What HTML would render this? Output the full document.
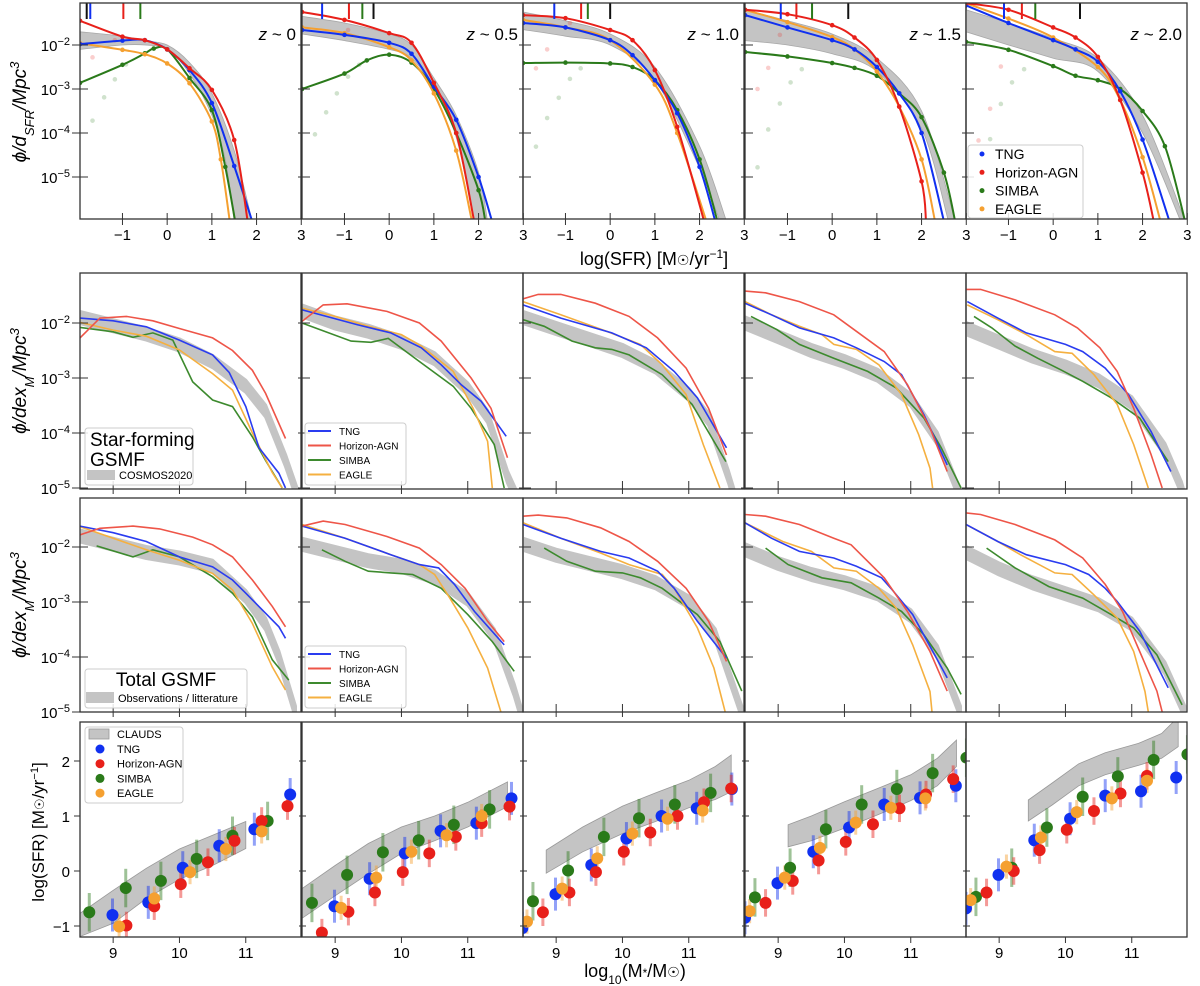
<!DOCTYPE html>
<html><head><meta charset="utf-8"><style>
html,body{margin:0;padding:0;background:#fff;}
svg{display:block;font-family:"Liberation Sans","DejaVu Sans",sans-serif;}
</style></head><body>
<svg id="fig" width="1200" height="986" viewBox="0 0 1200 986" xmlns="http://www.w3.org/2000/svg">
<defs id="defs"></defs>
<text x="654" y="265" font-size="18" text-anchor="middle">log(SFR) [M<tspan font-size="14">☉</tspan>/yr<tspan baseline-shift="super" font-size="12">−1</tspan>]</text>
<text x="635" y="977" font-size="18" text-anchor="middle">log<tspan baseline-shift="sub" font-size="12">10</tspan>(M<tspan font-size="12">*</tspan>/M<tspan font-size="14">☉</tspan>)</text>
<text transform="translate(26,112) rotate(-90)" font-size="19" text-anchor="middle" font-style="italic">ϕ/d<tspan baseline-shift="sub" font-size="13">SFR</tspan>/Mpc<tspan baseline-shift="super" font-size="13">3</tspan></text>
<text transform="translate(26,381) rotate(-90)" font-size="19" text-anchor="middle" font-style="italic">ϕ/dex<tspan baseline-shift="sub" font-size="13">M</tspan>/Mpc<tspan baseline-shift="super" font-size="13">3</tspan></text>
<text transform="translate(26,605) rotate(-90)" font-size="19" text-anchor="middle" font-style="italic">ϕ/dex<tspan baseline-shift="sub" font-size="13">M</tspan>/Mpc<tspan baseline-shift="super" font-size="13">3</tspan></text>
<text transform="translate(44,832) rotate(-90)" font-size="17" text-anchor="middle">log(SFR) [M<tspan font-size="13">☉</tspan>/yr<tspan baseline-shift="super" font-size="11">−1</tspan>]</text>
</svg>
<script>
// ---------- DATA: row 1 (SFR functions, log phi) ----------
const redshiftLabels = ["z ~ 0","z ~ 0.5","z ~ 1.0","z ~ 1.5","z ~ 2.0"];
const r1TngX = [[-1.95,-1,-0.5,0,0.5,1,1.5,1.9],[-1.95,-1,0,0.5,1,1.5,2,2.3],[-1.95,-1,0,0.5,1,1.5,2,2.35],[-1.95,-1,0,0.5,1,1.5,2,2.5],[-1.95,-1,0,0.5,1,1.5,2,2.6]];
const r1TngY = [[-1.98,-1.9,-1.89,-2.1,-2.57,-3.32,-4.75,-6],[-1.66,-1.77,-1.95,-2.2,-2.95,-3.7,-5.0,-6],[-1.5,-1.6,-1.89,-2.23,-2.8,-3.55,-4.77,-6],[-1.32,-1.6,-1.89,-2.1,-2.5,-3.1,-4.0,-6],[-1.1,-1.5,-1.89,-2.1,-2.38,-3.05,-4.15,-6]];
const r1HagnX = [[-1.95,-1,-0.5,0,0.5,1,1.5,1.8],[-1.95,-1,0,0.5,1,1.5,1.9],[-1.95,-1,0,0.5,1,1.5,2.1],[-1.95,-1,0,0.5,1,1.5,2,2.1],[-1.95,-1,0,0.5,1,1.5,2,2.25]];
const r1HagnY = [[-1.45,-1.81,-1.89,-2.1,-2.53,-3.02,-4.16,-6],[-1.25,-1.43,-1.73,-1.95,-2.86,-4.0,-6],[-1.32,-1.39,-1.66,-1.89,-2.57,-3.86,-6],[-1.2,-1.3,-1.55,-1.83,-2.34,-3.4,-5.1,-6],[-1.05,-1.2,-1.6,-1.83,-2.27,-3.25,-4.9,-6]];
const r1SimbaX = [[-1.95,-1,-0.5,-0.3,0,0.5,1,1.3,1.52],[-1.95,-1,-0.5,0,0.5,1,1.5,2,2.15],[-1.95,-1,0,0.5,1,1.5,2,2.4],[-1.95,-1,0,0.5,1,1.5,2,2.5,2.75],[-1.95,-1,0,0.5,1,1.5,2,2.5,2.95]];
const r1SimbaY = [[-2.86,-2.45,-2.19,-2.08,-2.1,-2.75,-3.48,-4.77,-6],[-3,-2.65,-2.35,-2.22,-2.4,-3.0,-4.0,-5.3,-6],[-2.41,-2.4,-2.42,-2.5,-2.8,-3.48,-4.6,-6],[-2.16,-2.26,-2.41,-2.52,-2.7,-3.1,-3.64,-4.9,-6],[-1.93,-2.11,-2.48,-2.7,-2.8,-3.0,-3.5,-4.3,-6]];
const r1EagleX = [[-1.95,-1,-0.5,0,0.5,1,1.2,1.4],[-1.95,-1,0,0.5,1,1.5,1.85],[-1.95,-1,0,1,1.5,2.15],[-1.95,-1,0,0.5,1,1.5,2,2.3],[-1.95,-1,0,1,1.5,2,2.4]];
const r1EagleY = [[-1.96,-2.11,-2.21,-2.42,-2.87,-3.74,-4.6,-6],[-1.6,-1.73,-2.05,-2.35,-3.1,-4.4,-6],[-1.43,-1.6,-1.89,-2.9,-4.0,-6],[-1.2,-1.48,-1.82,-2.1,-2.6,-3.4,-4.6,-6],[-1.05,-1.4,-1.83,-2.5,-3.25,-4.55,-6]];
const r1BandUpX = [[-1.95,-1,-0.5,0,0.5,1,1.5,1.9],[-1.95,-1,0,0.5,1,1.5,2,2.2],[-1.95,-1,0,1,2,2.6],[-1.95,-1,0,1,2,2.75],[-1.95,-1,0,1,2,2.95]];
const r1BandUpY = [[-1.7,-1.8,-1.9,-2.0,-2.4,-3.1,-4.4,-6],[-1.35,-1.5,-1.75,-2.0,-2.75,-3.6,-4.9,-6],[-1.25,-1.45,-1.75,-2.5,-4.3,-6],[-1.2,-1.45,-1.75,-2.3,-3.5,-6],[-1.2,-1.5,-1.85,-2.3,-3.6,-6]];
const r1BandLoX = [[-1.95,-1,-0.5,0,0.5,1,1.3,1.5],[-1.95,-1,0,0.5,1,1.5,1.9],[-1.95,-1,0,1,2,2.45],[-1.95,-1,0,1,2,2.6],[-1.95,-1,0,1,2,2.85]];
const r1BandLoY = [[-2.1,-2.0,-2.0,-2.1,-2.65,-3.6,-4.6,-6],[-1.75,-1.9,-2.1,-2.3,-3.0,-4.1,-6],[-1.65,-1.8,-2.0,-2.8,-4.8,-6],[-1.9,-2.0,-2.2,-2.6,-3.9,-6],[-1.7,-2.0,-2.3,-2.6,-4.0,-6]];
const r1FadedGreenX = [[-1.67,-1.41,-1.17,-0.92],[-1.66,-1.41,-1.17,-0.92,-0.67],[-1.66,-1.41,-1.15,-0.9,-0.66],[-1.67,-1.43,-1.17,-0.93,-0.68],[-1.41,-1.17,-0.92,-0.65]];
const r1FadedGreenY = [[-3.72,-3.19,-2.78,-2.44],[-4.03,-3.53,-3.1,-2.72,-2.45],[-4.31,-3.66,-3.2,-2.77,-2.53],[-4.78,-3.92,-3.33,-2.85,-2.55],[-4.14,-3.34,-2.85,-2.55]];
const r1FadedRedX = [[-1.67,-1.17],[-0.92],[-1.66,-1.41,-0.9],[-1.67,-1.43,-1.17],[-1.67,-1.41,-1.17]];
const r1FadedRedY = [[-2.28,-1.89],[-1.66],[-2.53,-2.1,-1.5],[-3.0,-2.52,-1.77],[-4.17,-3.45,-2.49]];
const r1TopTickTng = [-1.72,-1.5,-1.25,-1.15,-1.1];
const r1TopTickHagn = [-0.98,-0.9,-0.65,-0.8,-0.7];
const r1TopTickSimba = [-0.6,-0.6,-0.5,-0.45,-0.4];
const r1TopTickObs = [-1.8,-0.35,0,0.36,0.6];
const r1XTicks = [-1,0,1,2,3];
const r1YTicks = [-2,-3,-4,-5];

// ---------- DATA: row 2 (star-forming GSMF) ----------
const r2TngM = [[8.5,9,9.5,10,10.5,10.75,11,11.2,11.5,11.6],[8.5,9.33,9.84,10.3,10.6,10.9,11.2,11.58],[8.5,9.07,9.84,10.36,10.78,11.13,11.57],[8.5,8.9,9.32,9.84,10.18,10.6,10.86,11.2,11.55],[8.52,8.98,9.41,10.0,10.26,10.6,10.95,11.29,11.59]];
const r2TngV = [[-1.91,-1.96,-2.07,-2.31,-2.58,-2.9,-3.52,-4.27,-4.73,-5],[-1.76,-2.03,-2.18,-2.45,-2.76,-3.12,-3.42,-4.06],[-1.67,-1.91,-2.18,-2.45,-2.88,-3.36,-4.27],[-1.64,-1.85,-2.09,-2.27,-2.45,-2.7,-2.94,-3.67,-4.58],[-1.61,-1.91,-2.18,-2.39,-2.52,-2.82,-3.3,-3.97,-4.7]];
const r2HagnM = [[8.5,8.8,9.2,9.6,10,10.5,10.8,11.1,11.3,11.6],[8.5,8.82,9.18,9.78,10.27,10.6,11.05,11.35,11.6],[8.5,8.73,9.07,9.59,10.1,10.53,10.96,11.3,11.57],[8.5,8.81,9.32,9.84,10.18,10.6,10.95,11.29,11.55],[8.5,8.72,9.24,9.84,10.18,10.52,10.78,11.03,11.29,11.46]];
const r2HagnV = [[-2.27,-1.91,-1.88,-1.96,-2.1,-2.27,-2.5,-2.86,-3.28,-4.1],[-1.97,-1.67,-1.65,-1.79,-2.0,-2.33,-3.0,-3.55,-4.45],[-1.56,-1.48,-1.48,-1.64,-1.88,-2.27,-2.82,-3.55,-4.4],[-1.42,-1.45,-1.61,-1.85,-2.15,-2.52,-3.12,-3.91,-4.7],[-1.39,-1.39,-1.58,-1.85,-2.09,-2.45,-2.88,-3.55,-4.39,-5]];
const r2SimbaM = [[8.5,9,9.3,9.6,9.9,10.2,10.5,10.8,11.1,11.3,11.55],[8.5,9.24,9.54,9.8,10.27,10.78,11.05,11.4,11.55],[8.5,8.82,9.24,9.59,9.84,10.1,10.6,11.05,11.56],[8.59,8.98,9.32,9.84,10.35,10.78,11.2,11.46,11.76],[8.62,8.89,9.24,9.58,9.93,10.26,10.69,11.12,11.55]];
const r2SimbaV = [[-2.08,-2.16,-2.26,-2.18,-2.31,-3.07,-3.4,-3.52,-4.07,-4.5,-5],[-2.0,-2.33,-2.35,-2.28,-2.7,-3.15,-3.55,-4.21,-5],[-1.94,-2.06,-2.33,-2.45,-2.48,-2.58,-2.94,-3.48,-4.52],[-1.88,-2.12,-2.39,-2.64,-2.88,-3.18,-3.73,-4.27,-5],[-1.88,-2.09,-2.42,-2.64,-2.85,-3.06,-3.36,-3.73,-4.52]];
const r2EagleM = [[8.5,9,9.5,10,10.5,10.8,11.1,11.4,11.55],[8.5,9.0,9.5,10.0,10.3,10.78,11.08,11.3,11.37],[8.5,9.07,9.76,10.27,10.6,10.96,11.22,11.47],[8.5,8.9,9.32,9.66,9.84,10.18,10.52,10.86,11.12,11.29,11.33],[8.52,8.98,9.41,9.84,10.1,10.43,10.78,11.03,11.25]];
const r2EagleV = [[-1.99,-2.13,-2.24,-2.49,-2.92,-3.22,-4.0,-4.72,-5],[-1.73,-1.88,-2.06,-2.21,-2.42,-2.88,-3.55,-4.15,-5],[-1.61,-1.85,-2.15,-2.39,-2.76,-3.3,-4.21,-5],[-1.61,-1.85,-2.06,-2.21,-2.39,-2.48,-2.76,-3.3,-4.03,-4.64,-5],[-1.67,-1.94,-2.21,-2.52,-2.55,-2.94,-3.48,-4.21,-5]];
const r2BandM = [[8.5,9,9.5,10,10.5,11,11.3,11.6,11.8],[8.5,9,9.5,10,10.5,11,11.3,11.6,11.75],[8.5,9,9.5,10,10.5,11,11.3,11.6,11.7],[8.5,9,9.5,10,10.5,11,11.4,11.7,11.8],[8.5,9,9.5,10,10.5,11,11.5,11.75,11.82]];
const r2BandV = [[-1.9,-2.05,-2.2,-2.4,-2.7,-3.15,-3.6,-4.5,-5.2],[-1.78,-2.0,-2.15,-2.35,-2.65,-3.2,-3.7,-4.8,-5.2],[-1.9,-2.1,-2.3,-2.5,-2.8,-3.3,-3.75,-4.8,-5.2],[-2.0,-2.25,-2.5,-2.7,-2.95,-3.4,-4.1,-5,-5.3],[-2.1,-2.35,-2.6,-2.8,-3.05,-3.45,-4.3,-5,-5.3]];

// ---------- DATA: row 3 (total GSMF) ----------
const r3TngM = [[8.5,9,9.5,10,10.5,10.8,11,11.5,11.6],[8.5,9.15,9.84,10.27,10.56,10.8,11.1,11.55],[8.5,9.07,9.67,10.1,10.53,10.78,11.13,11.57],[8.5,8.9,9.32,9.84,10.18,10.56,10.7,11.03,11.55],[8.5,8.98,9.41,10.0,10.35,10.6,10.78,11.12,11.55]];
const r3TngV = [[-1.62,-1.74,-1.9,-2.18,-2.36,-2.6,-2.84,-3.45,-3.66],[-1.62,-1.84,-2.14,-2.32,-2.38,-2.68,-3.17,-3.78],[-1.59,-1.84,-2.08,-2.2,-2.44,-2.75,-3.35,-4.02],[-1.56,-1.84,-2.08,-2.2,-2.35,-2.56,-2.75,-3.23,-4.38],[-1.59,-1.9,-2.14,-2.32,-2.5,-2.75,-2.99,-3.53,-4.56]];
const r3HagnM = [[8.5,8.8,9.3,9.7,10.2,10.5,10.8,11.1,11.4,11.6],[8.5,8.82,9.15,9.78,10.27,10.6,10.96,11.3,11.55],[8.5,8.73,9.16,9.67,10.1,10.53,10.96,11.3,11.57],[8.5,8.81,9.32,9.84,10.1,10.35,10.6,10.95,11.29,11.55],[8.5,8.72,9.24,9.84,10.26,10.6,10.86,11.12,11.38,11.46]];
const r3HagnV = [[-1.78,-1.66,-1.62,-1.67,-1.82,-1.96,-2.18,-2.6,-3.08,-3.45],[-1.62,-1.53,-1.59,-1.81,-2.02,-2.32,-2.75,-3.35,-3.72],[-1.44,-1.42,-1.47,-1.65,-1.9,-2.26,-2.75,-3.35,-4.08],[-1.41,-1.44,-1.59,-1.84,-1.96,-2.26,-2.56,-3.17,-3.9,-4.62],[-1.38,-1.41,-1.59,-1.87,-2.2,-2.68,-3.17,-3.9,-4.62,-5]];
const r3SimbaM = [[8.75,9.3,9.6,10,10.5,10.8,11.1,11.4,11.65],[8.8,9.15,9.5,9.84,10.17,10.6,11.0,11.37,11.7],[8.82,9.16,9.59,10.0,10.27,10.6,11.13,11.47,11.8],[8.81,9.15,9.66,10.1,10.52,10.86,11.2,11.55,11.76],[8.81,9.24,9.75,10.26,10.69,11.03,11.38,11.76]];
const r3SimbaV = [[-1.98,-2.18,-2.05,-2.18,-2.54,-2.84,-3.27,-4.05,-4.42],[-2.05,-2.26,-2.44,-2.47,-2.5,-2.75,-3.23,-3.72,-4.26],[-2.02,-2.26,-2.44,-2.47,-2.56,-2.75,-3.23,-3.72,-4.62],[-2.02,-2.32,-2.56,-2.65,-2.93,-3.17,-3.6,-4.2,-4.68],[-2.02,-2.38,-2.72,-2.93,-3.23,-3.47,-3.96,-4.87]];
const r3EagleM = [[8.5,9,9.5,10,10.5,10.8,11.1,11.4,11.6],[8.5,9.15,9.84,10.27,10.5,10.73,11.0,11.3,11.5],[8.5,9.07,9.67,10.1,10.6,10.78,11.13,11.38,11.55],[8.5,9.07,9.5,9.84,10.18,10.52,10.78,11.03,11.29,11.32],[8.5,8.98,9.32,9.84,10.1,10.43,10.78,11.03,11.2,11.25]];
const r3EagleV = [[-1.63,-1.84,-2.05,-2.24,-2.48,-2.78,-3.39,-4.18,-4.6],[-1.59,-1.84,-2.14,-2.32,-2.5,-2.93,-3.47,-4.2,-5],[-1.56,-1.84,-2.11,-2.32,-2.5,-2.75,-3.47,-4.2,-5],[-1.56,-1.9,-2.08,-2.38,-2.44,-2.75,-3.11,-3.78,-4.63,-5],[-1.59,-1.9,-2.14,-2.47,-2.5,-2.87,-3.29,-3.9,-4.63,-5]];
const r3BandM = [[8.5,9,9.5,10,10.5,11,11.3,11.5,11.75],[8.5,9,9.5,10,10.5,11,11.4,11.7,11.8],[8.5,9,9.5,10,10.5,11,11.4,11.8],[8.5,9,9.5,10,10.5,11,11.4,11.75],[8.5,9,9.5,10,10.5,11,11.5,11.8]];
const r3BandV = [[-1.8,-1.95,-2.1,-2.2,-2.35,-2.9,-3.4,-4.0,-5],[-1.95,-2.1,-2.25,-2.35,-2.55,-2.95,-3.6,-4.6,-5],[-1.95,-2.15,-2.3,-2.45,-2.65,-3.0,-3.6,-5],[-2.05,-2.3,-2.5,-2.65,-2.85,-3.25,-3.9,-5],[-2.1,-2.4,-2.65,-2.85,-3.05,-3.4,-4.2,-5]];
const gsmfBandHalfWidth = [0.11,0.11,0.11,0.11,0.11];
const massTicks = [9,10,11];
const gsmfYTicks = [-2,-3,-4,-5];

// ---------- DATA: row 4 (SFR - mass) ----------
const r4BandM = [[8.5,9,9.5,10,10.5,11],[8.5,9,9.5,10,10.5,11,11.6],[8.85,9.4,10,10.5,11,11.4,11.64],[9.15,9.5,10,10.5,11,11.4,11.69],[9.44,9.8,10.2,10.6,11.1,11.45,11.7]];
const r4BandLo = [[-1.19,-0.95,-0.5,-0.15,0.1,0.41],[-0.86,-0.45,-0.05,0.32,0.55,0.8,1.17],[-0.04,0.35,0.68,0.9,1.15,1.3,1.44],[0.44,0.55,0.78,1.02,1.28,1.55,1.9],[0.91,1.2,1.55,1.75,1.92,2.05,2.26]];
const r4BandHi = [[-0.77,-0.35,0.05,0.4,0.65,0.9],[-0.32,0.1,0.5,0.8,1.0,1.25,1.62],[0.38,0.8,1.18,1.42,1.65,1.9,2.11],[0.84,1.0,1.26,1.5,1.75,2.05,2.38],[1.29,1.6,1.95,2.15,2.32,2.5,2.8]];
const r4SimbaM = [[8.64,9.19,9.72,10.26,10.8,11.33],[8.65,9.18,9.72,10.26,10.79,11.33],[8.65,9.18,9.72,10.25,10.79,11.33],[8.65,9.18,9.72,10.26,10.79,11.33,11.84],[8.65,9.19,9.72,10.26,10.79,11.33,11.84]];
const r4SimbaS = [[-0.75,-0.31,-0.18,0.22,0.64,0.91],[-0.58,-0.07,0.34,0.56,0.84,1.12],[-0.55,0.01,0.62,0.96,1.21,1.42],[-0.48,0.06,0.76,1.21,1.49,1.78,2.06],[-0.47,0.06,0.79,1.35,1.72,2.02,2.12]];
const r4TngM = [[8.99,9.53,10.05,10.6,11.13,11.67],[8.99,9.52,10.05,10.59,11.13,11.66],[8.49,8.99,9.53,10.06,10.59,11.12,11.65],[8.5,8.99,9.53,10.07,10.6,11.14,11.68],[8.5,8.99,9.53,10.07,10.6,11.14,11.67]];
const r4TngS = [[-0.8,-0.57,0.06,0.46,0.76,1.39],[-0.64,-0.14,0.32,0.73,0.87,1.32],[-1.04,-0.42,0.11,0.59,1.0,1.14,1.49],[-0.85,-0.22,0.35,0.79,1.21,1.33,1.55],[-0.68,-0.07,0.56,0.95,1.37,1.45,1.7]];
const r4HagnM = [[9.2,9.62,10.02,10.43,10.83,11.24,11.63],[8.8,9.2,9.6,10.02,10.42,10.82,11.21,11.63],[8.8,9.2,9.6,10.02,10.42,10.83,11.23,11.64],[8.81,9.22,9.61,10.02,10.43,10.83,11.23,11.64],[8.81,9.22,9.61,10.02,10.43,10.83,11.23]];
const r4HagnS = [[-0.99,-0.64,-0.24,0.16,0.55,0.91,1.18],[-1.12,-0.74,-0.39,-0.02,0.32,0.62,0.87,1.17],[-0.75,-0.39,-0.02,0.35,0.7,1.0,1.25,1.5],[-0.58,-0.18,0.19,0.53,0.85,1.14,1.39,1.67],[-0.39,0.0,0.38,0.75,1.09,1.41,1.73]];
const r4EagleM = [[9.09,9.62,10.16,10.7,11.24],[9.09,9.62,10.15,10.68,11.21],[8.56,9.09,9.62,10.15,10.68,11.21],[8.57,9.1,9.63,10.17,10.7,11.22],[8.57,9.11,9.63,10.17,10.7,11.23]];
const r4EagleS = [[-1.01,-0.5,-0.02,0.4,0.72],[-0.67,-0.12,0.35,0.65,1.0],[-0.92,-0.32,0.23,0.68,0.95,1.1],[-0.73,-0.12,0.42,0.88,1.15,1.32],[-0.53,0.08,0.61,1.07,1.32,1.64]];
const r4ErrTng = [0.3,0.3,0.3,0.3,0.3];
const r4ErrHagn = [0.25,0.25,0.25,0.25,0.25];
const r4ErrSimba = [0.35,0.35,0.35,0.35,0.35];
const r4ErrEagle = [0.22,0.22,0.22,0.22,0.22];
const r4XTicks = [9,10,11];
const r4YTicks = [-1,0,1,2];

// ---------- LAYOUT ----------
const NS = "http://www.w3.org/2000/svg";
const svg = document.getElementById('fig');
const defs = document.getElementById('defs');
const colL = [80,302,523,745,966];
const PW = 221;
const rows = [{t:3,b:219},{t:273,b:489},{t:498,b:712},{t:722,b:937}];
const C = {tng:"#1030f0", hagn:"#e8201a", simba:"#2a7a1a", eagle:"#f5a030", band:"#c4c4c4", bandEdge:"#a8a8a8"};
const CL = {tng:"#2a3cf0", hagn:"#ee5548", simba:"#3d8a2e", eagle:"#f5b040"};

function mk(tag, parent, attrs, txt){
  const e = document.createElementNS(NS, tag);
  for (const k in attrs) e.setAttribute(k, attrs[k]);
  if (txt !== undefined) e.textContent = txt;
  parent.appendChild(e);
  return e;
}
// axis functions
function sx1(c,v){return colL[c] + (v+1.95)*44.7;}
function sy1(v){return 45 + (-2-v)*44;}
function sxm(c,m){return colL[c] + (m-8.5)*66.3;}
function sy2(v){return 323 + (-2-v)*55;}
function sy3(v){return 547 + (-2-v)*55;}
function sy4(s){return 871 - s*55;}

function smooth(pts){
  if (pts.length<2) return "";
  let d = "M"+pts[0][0].toFixed(1)+","+pts[0][1].toFixed(1);
  for (let i=0;i<pts.length-1;i++){
    const p0=pts[Math.max(i-1,0)], p1=pts[i], p2=pts[i+1], p3=pts[Math.min(i+2,pts.length-1)];
    const c1x=p1[0]+(p2[0]-p0[0])/6, c1y=p1[1]+(p2[1]-p0[1])/6;
    const c2x=p2[0]-(p3[0]-p1[0])/6, c2y=p2[1]-(p3[1]-p1[1])/6;
    d += " C"+c1x.toFixed(1)+","+c1y.toFixed(1)+" "+c2x.toFixed(1)+","+c2y.toFixed(1)+" "+p2[0].toFixed(1)+","+p2[1].toFixed(1);
  }
  return d;
}
function lin(pts){return pts.map((p,i)=>(i?"L":"M")+p[0].toFixed(1)+","+p[1].toFixed(1)).join(" ");}

function makePanel(r,c){
  const R = rows[r];
  const cp = mk('clipPath', defs, {id:'clip'+r+'_'+c});
  mk('rect', cp, {x:colL[c], y:R.t, width:PW, height:R.b-R.t});
  const g = mk('g', svg, {'clip-path':'url(#clip'+r+'_'+c+')'});
  
  
  return g;
}
function frame(r,c){
  const R = rows[r];
  const f = mk('rect', svg, {x:colL[c], y:R.t, width:PW, height:R.b-R.t, fill:'none', stroke:'#333', 'stroke-width':1.3});
  
  
}

// ---------- ROW 1 ----------
for (let c=0;c<5;c++){
  const g = makePanel(0,c);
  const up = r1BandUpX[c].map((x,i)=>[sx1(c,x), sy1(r1BandUpY[c][i])]);
  const lo = r1BandLoX[c].map((x,i)=>[sx1(c,x), sy1(r1BandLoY[c][i])]);
  const band = mk('path', g, {d: smooth(up) + " L" + smooth(lo.slice().reverse()).slice(1) + " Z", fill:C.band, stroke:C.bandEdge, 'stroke-width':0.8});
  
  
  for (let i=0;i<r1FadedGreenX[c].length;i++){
    const d = mk('circle', g, {cx:sx1(c,r1FadedGreenX[c][i]), cy:sy1(r1FadedGreenY[c][i]), r:2.3, fill:C.simba, opacity:0.22});
    
    
  }
  for (let i=0;i<r1FadedRedX[c].length;i++){
    const d = mk('circle', g, {cx:sx1(c,r1FadedRedX[c][i]), cy:sy1(r1FadedRedY[c][i]), r:2.3, fill:C.hagn, opacity:0.22});
    
    
  }
  const series = [['simba',r1SimbaX,r1SimbaY],['eagle',r1EagleX,r1EagleY],['tng',r1TngX,r1TngY],['hagn',r1HagnX,r1HagnY]];
  for (const s of series){
    const pts = s[1][c].map((x,i)=>[sx1(c,x), sy1(s[2][c][i])]);
    const p = mk('path', g, {d:smooth(pts), fill:'none', stroke:C[s[0]], 'stroke-width':2});
    
    
    for (let i=0;i<pts.length-1;i++){
      const d = mk('circle', g, {cx:pts[i][0], cy:pts[i][1], r:2.3, fill:C[s[0]]});
      
      
    }
  }
  const tks = [['#111',r1TopTickObs],[C.simba,r1TopTickSimba],[C.hagn,r1TopTickHagn],[C.tng,r1TopTickTng]];
  for (const t of tks){
    const l = mk('line', g, {x1:sx1(c,t[1][c]), x2:sx1(c,t[1][c]), y1:R0(), y2:R0()+16, stroke:t[0], 'stroke-width':2});
    
    
  }
  frame(0,c);
  const zl = mk('text', svg, {x:colL[c]+216, y:40, 'font-size':17, 'text-anchor':'end'});
  
  
  const parts = redshiftLabels[c].split(' ~ ');
  mk('tspan', zl, {'font-style':'italic'}, parts[0]);
  mk('tspan', zl, {}, ' ~ '+parts[1]);
  for (const v of r1XTicks){
    const x = sx1(c,v);
    const tl = mk('line', svg, {x1:x, x2:x, y1:213, y2:225, stroke:'#333', 'stroke-width':1});
    
    
    const tt = mk('text', svg, {x:x, y:240, 'font-size':15, 'text-anchor':'middle'}, v<0?'−'+(-v):String(v));
    
    
  }
  for (const v of r1YTicks){
    const y = sy1(v);
    const yl = mk('line', svg, {x1:colL[c]-(c?4:8), x2:colL[c]+8, y1:y, y2:y, stroke:'#333', 'stroke-width':1});
    
    
  }
}
function R0(){return rows[0].t;}
for (const v of r1YTicks){
  const t = mk('text', svg, {x:70, y:sy1(v)+6, 'font-size':15, 'text-anchor':'end'});
  
  
  mk('tspan', t, {}, '10');
  mk('tspan', t, {'baseline-shift':'super', 'font-size':11}, '−'+(-v));
}

// ---------- ROWS 2 & 3 ----------
function gsmfRow(r, sy, TM,TV,HM,HV,SM,SV,EM,EV,BM,BV){
  for (let c=0;c<5;c++){
    const g = makePanel(r,c);
    const hw = gsmfBandHalfWidth[c];
    const up = BM[c].map((m,i)=>[sxm(c,m), sy(BV[c][i]+hw)]);
    const lo = BM[c].map((m,i)=>[sxm(c,m), sy(BV[c][i]-hw)]).reverse();
    const band = mk('path', g, {d: lin(up.concat(lo)) + " Z", fill:C.band, stroke:C.band, 'stroke-width':3, 'stroke-linejoin':'round'});
    
    
    const series = [['simba',SM,SV],['eagle',EM,EV],['tng',TM,TV],['hagn',HM,HV]];
    for (const s of series){
      const pts = s[1][c].map((m,i)=>[sxm(c,m), sy(s[2][c][i])]);
      const p = mk('path', g, {d:lin(pts), fill:'none', stroke:CL[s[0]], 'stroke-width':1.6});
      
      
    }
    frame(r,c);
    const R = rows[r];
    for (const m of massTicks){
      const x = sxm(c,m);
      const tl = mk('line', svg, {x1:x, x2:x, y1:R.b-8, y2:R.b+5, stroke:'#333', 'stroke-width':1});
      
      
    }
    for (const v of gsmfYTicks){
      const y = sy(v);
      const yl = mk('line', svg, {x1:colL[c]-(c?4:8), x2:colL[c]+8, y1:y, y2:y, stroke:'#333', 'stroke-width':1});
      
      
    }
  }
  for (const v of gsmfYTicks){
    const t = mk('text', svg, {x:70, y:sy(v)+6, 'font-size':15, 'text-anchor':'end'});
    
    
    mk('tspan', t, {}, '10');
    mk('tspan', t, {'baseline-shift':'super', 'font-size':11}, '−'+(-v));
  }
}
gsmfRow(1, sy2, r2TngM,r2TngV,r2HagnM,r2HagnV,r2SimbaM,r2SimbaV,r2EagleM,r2EagleV,r2BandM,r2BandV);
gsmfRow(2, sy3, r3TngM,r3TngV,r3HagnM,r3HagnV,r3SimbaM,r3SimbaV,r3EagleM,r3EagleV,r3BandM,r3BandV);

// ---------- ROW 4 ----------
for (let c=0;c<5;c++){
  const g = makePanel(3,c);
  const up = r4BandM[c].map((m,i)=>[sxm(c,m), sy4(r4BandHi[c][i])]);
  const lo = r4BandM[c].map((m,i)=>[sxm(c,m), sy4(r4BandLo[c][i])]).reverse();
  const band = mk('path', g, {d: lin(up.concat(lo)) + " Z", fill:C.band, stroke:'#999', 'stroke-width':0.8});
  
  
  const series = [['simba',r4SimbaM,r4SimbaS,r4ErrSimba],['tng',r4TngM,r4TngS,r4ErrTng],['hagn',r4HagnM,r4HagnS,r4ErrHagn],['eagle',r4EagleM,r4EagleS,r4ErrEagle]];
  for (const s of series){
    for (let i=0;i<s[1][c].length;i++){
      const x = sxm(c,s[1][c][i]), v = s[2][c][i], e = s[3][c];
      const eb = mk('line', g, {x1:x, x2:x, y1:sy4(v-e), y2:sy4(v+e), stroke:C[s[0]], 'stroke-width':3, opacity:0.45});
      
      
    }
  }
  for (const s of series){
    for (let i=0;i<s[1][c].length;i++){
      const pt = mk('circle', g, {cx:sxm(c,s[1][c][i]), cy:sy4(s[2][c][i]), r:6, fill:C[s[0]]});
      
      
    }
  }
  frame(3,c);
  for (const m of r4XTicks){
    const x = sxm(c,m);
    const tl = mk('line', svg, {x1:x, x2:x, y1:937, y2:943, stroke:'#333', 'stroke-width':1});
    
    
    const tt = mk('text', svg, {x:x, y:958, 'font-size':15, 'text-anchor':'middle'}, String(m));
    
    
  }
  for (const v of r4YTicks){
    const y = sy4(v);
    const yl = mk('line', svg, {x1:colL[c]-(c?3:6), x2:colL[c]+(c?4:0), y1:y, y2:y, stroke:'#333', 'stroke-width':1});
    
    
  }
}
for (const v of r4YTicks){
  const t = mk('text', svg, {x:70, y:sy4(v)+6, 'font-size':15, 'text-anchor':'end'}, v<0?'−'+(-v):String(v));
  
  
}

// ---------- LEGENDS ----------
function box(x,y,w,h,name){
  const b = mk('rect', svg, {x:x, y:y, width:w, height:h, rx:3, fill:'#fff', 'fill-opacity':0.85, stroke:'#ccc', 'stroke-width':1});
  
  
}
const legendNames = ["TNG","Horizon-AGN","SIMBA","EAGLE"];
const legendKeys = ["tng","hagn","simba","eagle"];
// row1 legend
box(968,145,115,73,'sfr-legend');
for (let i=0;i<4;i++){
  const y = 154 + i*18.3;
  const d = mk('circle', svg, {cx:982, cy:y, r:2.5, fill:C[legendKeys[i]]});
  
  
  const t = mk('text', svg, {x:995, y:y+5, 'font-size':14}, legendNames[i]);
  
  
}
// row2/3 line legends (col2)
function lineLegend(y0, name){
  box(305, y0, 101, 62, name);
  for (let i=0;i<4;i++){
    const y = y0 + 8 + i*14.5;
    const l = mk('line', svg, {x1:308, x2:331, y1:y, y2:y, stroke:CL[legendKeys[i]], 'stroke-width':2});
    
    
    const t = mk('text', svg, {x:339, y:y+4, 'font-size':10}, legendNames[i]);
    
    
  }
}
lineLegend(423, 'sf-gsmf-model-legend');
lineLegend(646, 'total-gsmf-model-legend');
// row2 col1 legend
box(85,428,108,57,'sf-gsmf-obs-legend');
let t;
t = mk('text', svg, {x:90, y:446, 'font-size':19}, 'Star-forming');


t = mk('text', svg, {x:90, y:466, 'font-size':19}, 'GSMF');


t = mk('rect', svg, {x:87, y:470, width:28, height:10, fill:C.band});


t = mk('text', svg, {x:119, y:479, 'font-size':11}, 'COSMOS2020');


// row3 col1 legend
box(85,669,162,39,'total-gsmf-obs-legend');
t = mk('text', svg, {x:166, y:686, 'font-size':19, 'text-anchor':'middle'}, 'Total GSMF');


t = mk('rect', svg, {x:86, y:692, width:28, height:11, fill:C.band});


t = mk('text', svg, {x:118, y:702, 'font-size':11}, 'Observations / litterature');


// row4 legend
box(85,727,98,76,'sfr-mass-legend');
t = mk('rect', svg, {x:89, y:729, width:20, height:10, fill:C.band, stroke:'#999', 'stroke-width':0.8});


t = mk('text', svg, {x:117, y:738, 'font-size':11}, 'CLAUDS');


for (let i=0;i<4;i++){
  const y = 749 + i*14.7;
  const d = mk('circle', svg, {cx:100, cy:y, r:4.5, fill:C[legendKeys[i]]});
  
  
  const tt = mk('text', svg, {x:117, y:y+4, 'font-size':11}, legendNames[i]);
  
  
}
</script>
</body></html>
